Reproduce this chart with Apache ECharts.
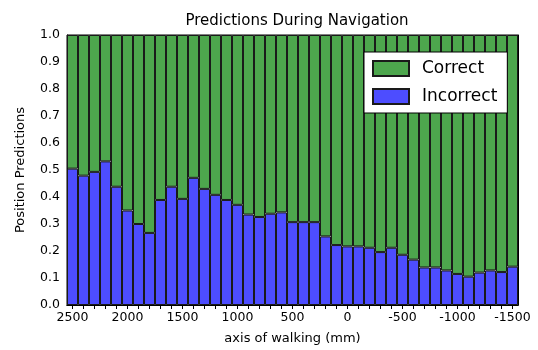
<!DOCTYPE html>
<html><head><meta charset="utf-8">
<script src="https://cdn.jsdelivr.net/npm/echarts@6/dist/echarts.min.js"></script>
<style>html,body{margin:0;padding:0;background:#fff}#c{width:538px;height:350px}</style>
</head><body><div id="c"></div>
<script>
const positions = [2500,2400,2300,2200,2100,2000,1900,1800,1700,1600,1500,1400,1300,1200,1100,1000,900,800,700,600,500,400,300,200,100,0,-100,-200,-300,-400,-500,-600,-700,-800,-900,-1000,-1100,-1200,-1300,-1400,-1500];
const incorrect = [0.505,0.479,0.493,0.532,0.438,0.350,0.300,0.267,0.389,0.438,0.393,0.471,0.430,0.408,0.389,0.371,0.335,0.326,0.338,0.343,0.307,0.307,0.307,0.254,0.222,0.217,0.217,0.212,0.196,0.212,0.186,0.168,0.139,0.139,0.128,0.115,0.105,0.120,0.128,0.122,0.142];
const correct = incorrect.map(v => +(1 - v).toFixed(3));
const categories = positions.map(String);
const font = 'DejaVu Sans';
const chart = echarts.init(document.getElementById('c'));
const edge = {borderColor:'#1a1a1a', borderWidth:1};
chart.setOption({
  animation:false,
  title:{text:'Predictions During Navigation', left:292, textAlign:'center', top:9,
    textStyle:{fontFamily:font, fontSize:15, fontWeight:'normal', color:'#000'}},
  grid:{left:67, right:20, top:35, bottom:42, show:true, borderColor:'#000', borderWidth:1, backgroundColor:'transparent'},
  legend:{orient:'vertical', left:364, top:52, data:['Correct','Incorrect'], icon:'rect',
    itemWidth:36, itemHeight:15, itemGap:11, padding:[8,10,8,8],
    backgroundColor:'#fff', borderColor:'#000', borderWidth:1, borderRadius:0,
    textStyle:{fontFamily:font, fontSize:17, color:'#000', padding:[0,0,0,8]}},
  xAxis:[{type:'category', data:categories, name:'axis of walking (mm)', nameLocation:'middle', nameGap:27,
    nameTextStyle:{fontFamily:font, fontSize:13, color:'#000'},
    axisLine:{show:true, lineStyle:{color:'#000'}},
    axisTick:{show:true, inside:true, interval:0, alignWithLabel:true, length:4, lineStyle:{color:'#000'}},
    axisLabel:{interval:4, fontFamily:font, fontSize:12.5, color:'#000', margin:6}},
   {type:'category', position:'top', data:categories,
    axisLine:{show:true, lineStyle:{color:'#000'}},
    axisTick:{show:true, inside:true, interval:0, alignWithLabel:true, length:4, lineStyle:{color:'#000'}},
    axisLabel:{show:false}}],
  yAxis:[{type:'value', min:0, max:1, interval:0.1, name:'Position Predictions', nameLocation:'middle', nameGap:40,
    nameTextStyle:{fontFamily:font, fontSize:13, color:'#000'},
    axisLine:{show:true, lineStyle:{color:'#000'}},
    axisTick:{show:true, inside:true, length:4, lineStyle:{color:'#000'}},
    splitLine:{show:false},
    axisLabel:{fontFamily:font, fontSize:12.5, color:'#000', margin:7, formatter:v=>v.toFixed(1)}},
   {type:'value', min:0, max:1, interval:0.1, position:'right',
    axisLine:{show:true, lineStyle:{color:'#000'}},
    axisTick:{show:true, inside:true, length:4, lineStyle:{color:'#000'}},
    splitLine:{show:false}, axisLabel:{show:false}}],
  series:[
    {name:'Incorrect', type:'bar', stack:'s', data:incorrect, barCategoryGap:0, itemStyle:Object.assign({color:'#4d4dff'},edge)},
    {name:'Correct', type:'bar', stack:'s', data:correct, barCategoryGap:0, itemStyle:Object.assign({color:'#4da64d'},edge)}
  ]
});
</script></body></html>
